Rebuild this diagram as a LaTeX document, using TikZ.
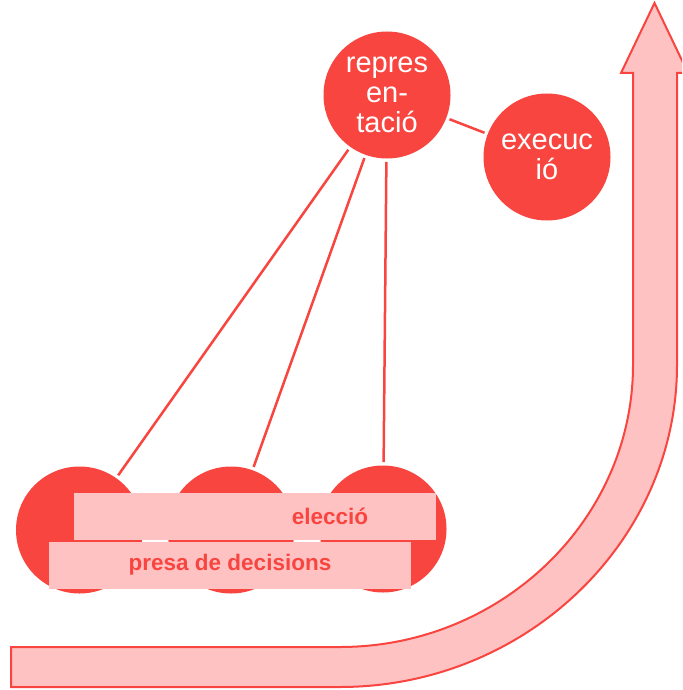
\documentclass[tikz,border=0pt]{standalone}
\usepackage{fontspec}
\setmainfont{Liberation Sans}
\usepackage{tikz}
\usetikzlibrary{positioning,calc}

\definecolor{cred}{HTML}{F94540}
\definecolor{cpink}{HTML}{FFC2C2}

\tikzset{
	stage/.style={circle,fill=cred,minimum size=127pt,inner sep=0pt,outer sep=3.5pt,text=white,align=center,font=\fontsize{29}{30}\selectfont},
	bar/.style={fill=cpink,minimum width=362pt,minimum height=47pt,inner sep=0pt,text=cred,font=\bfseries\fontsize{22.5}{24}\selectfont},
	link/.style={draw=cred,line width=2.5pt},
	bigarrow/.style={draw=cred,fill=cpink,line width=2pt,line join=miter}
}

\begin{document}
\begin{tikzpicture}[x=1pt,y=-1pt]
		\clip (0,0) rectangle (682,690);
		\fill[white] (0,0) rectangle (682,690);
		
		\draw[bigarrow] (11,647) -- (340,647) .. controls (501,647) and (633,520) .. (633,365) -- (633,73) -- (621,73) -- (654.5,3) -- (688,73) -- (677,73) -- (677,365) .. controls (677,542) and (525,687) .. (340,687) -- (11,687) -- cycle;
		
		\node[stage] (rep) at (387,95) {repres\\en-\\tació};
		\node[stage] (exe) at (547,157) {execuc\\ió};
		\node[stage] (c1) at (79.5,530) {};
		\node[stage] (c2) at (231,530) {};
		\node[stage] (c3) at (383,529) {};
		
		\draw[link] (rep)--(exe);
		\draw[link] (rep)--(c1);
		\draw[link] (rep)--(c2);
		\draw[link] (rep)--(c3);
		
		\node[bar] (elec) at (255,516.5) {};
		\node[text=cred,font=\bfseries\fontsize{22.5}{24}\selectfont,shift={(75,0)}] (electxt) at (elec.center) {elecció};
		\node[bar] (presa) at (230,565) {presa de decisions};
	\end{tikzpicture}
\end{document}
